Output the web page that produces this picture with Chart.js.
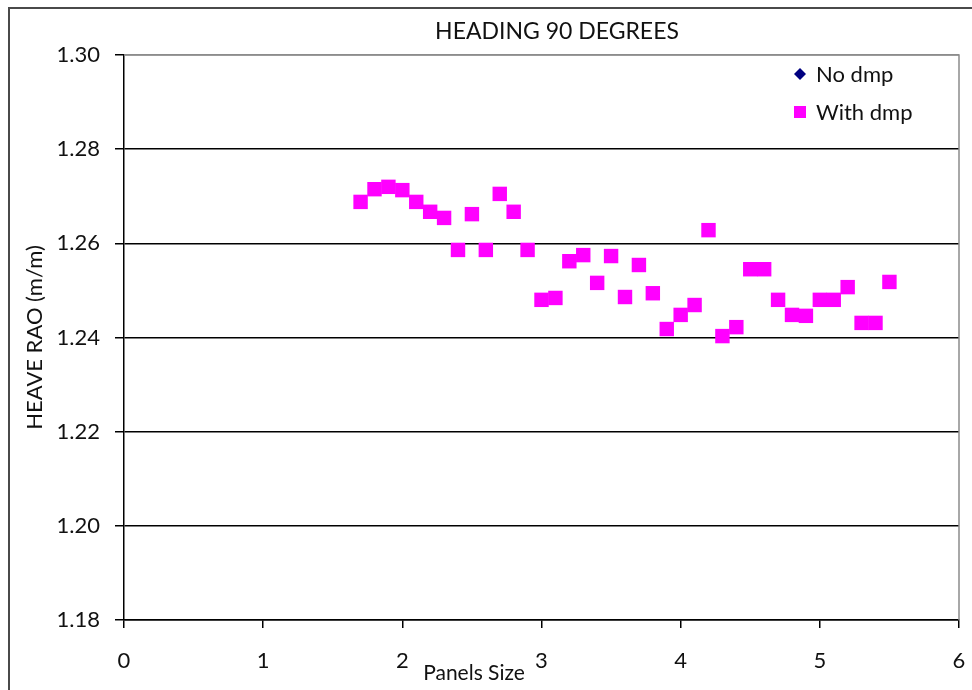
<!DOCTYPE html>
<html>
<head>
<meta charset="utf-8">
<script src="https://cdn.jsdelivr.net/npm/chart.js@4/dist/chart.umd.min.js"></script>
<style>
  html, body { margin: 0; padding: 0; background: #fff; }
  #wrap { width: 972px; height: 690px; position: relative; }
  #heave { display: block; width: 972px; height: 690px; }
</style>
</head>
<body>
<div id="wrap"><canvas id="heave" width="972" height="690"></canvas></div>
<script>
/* =================================================================
    Heave RAO vs panel size, heading 90 degrees
================================================================= */

var panelSize = [1.7, 1.8, 1.9, 2.0, 2.1, 2.2, 2.3, 2.4, 2.5, 2.6,
                 2.7, 2.8, 2.9, 3.0, 3.1, 3.2, 3.3, 3.4, 3.5, 3.6,
                 3.7, 3.8, 3.9, 4.0, 4.1, 4.2, 4.3, 4.4, 4.5, 4.6,
                 4.7, 4.8, 4.9, 5.0, 5.1, 5.2, 5.3, 5.4, 5.5];

var heaveNoDmp = [1.2688, 1.2715, 1.2720, 1.2713, 1.2688, 1.2667, 1.2654, 1.2586, 1.2662, 1.2586,
                  1.2705, 1.2667, 1.2586, 1.2480, 1.2484, 1.2562, 1.2575, 1.2516, 1.2573, 1.2486,
                  1.2554, 1.2494, 1.2418, 1.2448, 1.2469, 1.2628, 1.2403, 1.2422, 1.2545, 1.2545,
                  1.2480, 1.2448, 1.2446, 1.2480, 1.2480, 1.2507, 1.2431, 1.2431, 1.2518];

var heaveWithDmp = [1.2688, 1.2715, 1.2720, 1.2713, 1.2688, 1.2667, 1.2654, 1.2586, 1.2662, 1.2586,
                    1.2705, 1.2667, 1.2586, 1.2480, 1.2484, 1.2562, 1.2575, 1.2516, 1.2573, 1.2486,
                    1.2554, 1.2494, 1.2418, 1.2448, 1.2469, 1.2628, 1.2403, 1.2422, 1.2545, 1.2545,
                    1.2480, 1.2448, 1.2446, 1.2480, 1.2480, 1.2507, 1.2431, 1.2431, 1.2518];

var xTicks = [0, 1, 2, 3, 4, 5, 6];
var yTicks = [1.18, 1.20, 1.22, 1.24, 1.26, 1.28, 1.30];

var FONT = "Lato, 'Liberation Sans', Arial, sans-serif";

function points(xs, ys) {
    return xs.map(function (x, i) { return { x: x, y: ys[i] }; });
}

// frame, plot border, title, x-axis label and legend
var decorations = {
    id: 'decorations',
    beforeDraw: function (chart) {
        var c = chart.ctx;
        c.save();
        c.fillStyle = '#fff';
        c.fillRect(0, 0, chart.width, chart.height);
        c.strokeStyle = '#4a4a4a';
        c.lineWidth = 2;
        c.beginPath();
        c.moveTo(9, chart.height);
        c.lineTo(9, 8);
        c.lineTo(chart.width, 8);
        c.stroke();
        c.restore();
    },
    afterDraw: function (chart) {
        var c = chart.ctx, a = chart.chartArea;
        c.save();
        c.strokeStyle = '#8c8c8c';
        c.lineWidth = 1.5;
        c.beginPath();
        c.moveTo(a.left, a.top);
        c.lineTo(a.right, a.top);
        c.lineTo(a.right, a.bottom);
        c.stroke();

        c.fillStyle = '#111';
        c.textAlign = 'center';
        c.textBaseline = 'middle';
        c.font = '23px ' + FONT;
        c.fillText('HEADING 90 DEGREES', 557, 32);
        c.font = '21px ' + FONT;
        c.fillText('Panels Size', 474, 673);

        // legend
        var ds = chart.data.datasets;
        var rows = [74, 112];
        c.textAlign = 'left';
        c.font = '22px ' + FONT;
        ds.forEach(function (d, i) {
            var y = rows[i];
            c.fillStyle = d.backgroundColor;
            c.beginPath();
            if (d.pointStyle === 'rectRot') {
                c.moveTo(800, y - 6);
                c.lineTo(806, y);
                c.lineTo(800, y + 6);
                c.lineTo(794, y);
                c.closePath();
            } else {
                c.rect(794, y - 6, 12, 12);
            }
            c.fill();
            c.fillStyle = '#111';
            c.fillText(d.label, 816, y + 1);
        });
        c.restore();
    }
};

var ctx = document.getElementById("heave");

var myChart = new Chart(ctx, {
    type: 'scatter',
    data: {
        datasets: [
            {
                label: 'No dmp',
                data: points(panelSize, heaveNoDmp),
                pointStyle: 'rectRot',
                pointRadius: 6,
                backgroundColor: '#000080',
                borderWidth: 0,
                order: 1
            },
            {
                label: 'With dmp',
                data: points(panelSize, heaveWithDmp),
                pointStyle: 'rect',
                pointRadius: 10.2,
                backgroundColor: '#ff00ff',
                borderWidth: 0,
                order: 0
            }
        ]
    },
    options: {
        responsive: false,
        maintainAspectRatio: false,
        animation: false,
        devicePixelRatio: 1,
        layout: { padding: { left: 0, top: 55, right: 0, bottom: 0 } },
        plugins: {
            legend: { display: false },
            tooltip: { enabled: false }
        },
        scales: {
            x: {
                type: 'linear',
                min: xTicks[0],
                max: xTicks[xTicks.length - 1],
                afterFit: function (s) {
                    s.height = 70;
                    s.paddingLeft = 0;
                    s.paddingRight = 13;
                },
                afterBuildTicks: function (s) {
                    s.ticks = xTicks.map(function (v) { return { value: v }; });
                },
                border: { color: '#000', width: 1.5 },
                grid: {
                    drawOnChartArea: false,
                    color: '#000',
                    tickLength: 8,
                    lineWidth: 1.5
                },
                ticks: {
                    padding: 20,
                    color: '#111',
                    font: { family: FONT, size: 22 },
                    callback: function (v) { return v; }
                }
            },
            y: {
                type: 'linear',
                min: yTicks[0],
                max: yTicks[yTicks.length - 1],
                afterFit: function (s) { s.width = 124; },
                afterBuildTicks: function (s) {
                    s.ticks = yTicks.map(function (v) { return { value: v }; });
                },
                border: { color: '#000', width: 1.5 },
                grid: {
                    color: function (c) {
                        return c.tick && c.tick.value >= 1.299 ? '#8c8c8c' : '#000';
                    },
                    tickColor: '#000',
                    tickLength: 9,
                    lineWidth: 1.5
                },
                ticks: {
                    padding: 15,
                    color: '#111',
                    font: { family: FONT, size: 22 },
                    callback: function (v) { return Number(v).toFixed(2); }
                },
                title: {
                    display: true,
                    text: 'HEAVE RAO (m/m)',
                    color: '#111',
                    font: { family: FONT, size: 22 },
                    padding: { top: 22, bottom: 0 }
                }
            }
        }
    },
    plugins: [decorations]
});
</script>
</body>
</html>
